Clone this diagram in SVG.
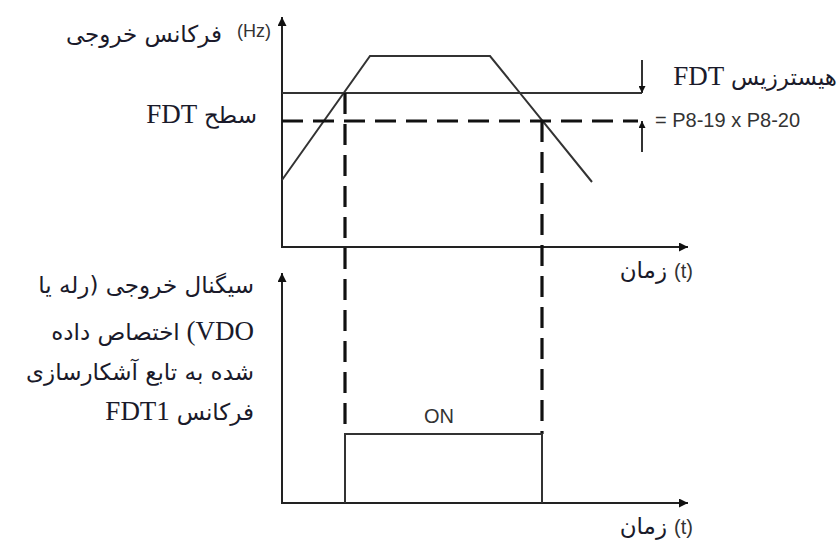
<svg xmlns="http://www.w3.org/2000/svg" width="840" height="541" viewBox="0 0 840 541">
<defs>
<style>
.ax{stroke:#222;stroke-width:2;fill:none}
.ln{stroke:#333;stroke-width:2;fill:none}
.dash{stroke:#111;stroke-width:3.2;fill:none;stroke-dasharray:21 10}
.fa{font-family:"DejaVu Sans",sans-serif;font-size:23px;fill:#1a1a2a}
.sr{font-family:"Liberation Serif","DejaVu Sans",serif;font-size:27px;fill:#1a1a2a}
.ar{font-family:"Liberation Sans",Arial,sans-serif;font-size:20px;fill:#333}
.hz{font-size:18px}
</style>
<marker id="ah" viewBox="0 0 10 10" refX="10" refY="5" markerWidth="12" markerHeight="9" markerUnits="userSpaceOnUse" orient="auto">
<path d="M0,0 L10,5 L0,10 z" fill="#111"/>
</marker>
<marker id="ahs" viewBox="0 0 10 10" refX="10" refY="5" markerWidth="9" markerHeight="7" markerUnits="userSpaceOnUse" orient="auto">
<path d="M0,0 L10,5 L0,10 z" fill="#111"/>
</marker>
</defs>
<rect width="840" height="541" fill="#fff"/>
<g id="axes">
<line class="ax" x1="282" y1="247" x2="282" y2="17" marker-end="url(#ah)"/>
<line class="ax" x1="281" y1="247" x2="688" y2="247" marker-end="url(#ah)"/>
<line class="ax" x1="282" y1="503" x2="282" y2="273" marker-end="url(#ah)"/>
<line class="ax" x1="281" y1="503" x2="688" y2="503" marker-end="url(#ah)"/>
</g>
<g id="connectors">
<polyline class="ln" points="282,180 370,56 490,56 592,182"/>
<line class="ln" x1="282" y1="93" x2="642" y2="93"/>
<line class="ln" x1="642" y1="60" x2="642" y2="93" stroke-width="1.6" marker-end="url(#ahs)"/>
<line class="ln" x1="642" y1="152" x2="642" y2="121" stroke-width="1.6" marker-end="url(#ahs)"/>
<line class="dash" x1="282" y1="121" x2="638" y2="121"/>
<line class="dash" x1="345" y1="93" x2="345" y2="434"/>
<line class="dash" x1="542" y1="121" x2="542" y2="434"/>
<polyline class="ln" points="345,503 345,434 542,434 542,503"/>
</g>
<g id="labels-top">
<text class="fa" x="222" y="42" text-anchor="end" font-size="24">فرکانس خروجی</text>
<text class="ar hz" x="237" y="37">(Hz)</text>
<text class="sr" x="257" y="123" direction="rtl"><tspan class="fa">سطح</tspan> FDT</text>
<text class="sr" x="837" y="85" direction="rtl"><tspan class="fa">هیسترزیس</tspan> FDT</text>
<text class="ar" x="655" y="127">= P8-19 x P8-20</text>
<text class="fa" x="667" y="278" text-anchor="end">زمان</text>
<text class="ar" x="674" y="278">(t)</text>
</g>
<g id="labels-bottom">
<text class="fa" x="254" y="293" direction="rtl">سیگنال خروجی (رله یا</text>
<text class="sr" x="254" y="340" direction="rtl">VDO) <tspan class="fa">اختصاص داده</tspan></text>
<text class="fa" x="254" y="380" direction="rtl">شده به تابع آشکارسازی</text>
<text class="sr" x="254" y="420" direction="rtl"><tspan class="fa">فرکانس</tspan> FDT1</text>
<text class="ar" x="439" y="423" text-anchor="middle">ON</text>
<text class="fa" x="667" y="534" text-anchor="end">زمان</text>
<text class="ar" x="674" y="534">(t)</text>
</g>
</svg>
